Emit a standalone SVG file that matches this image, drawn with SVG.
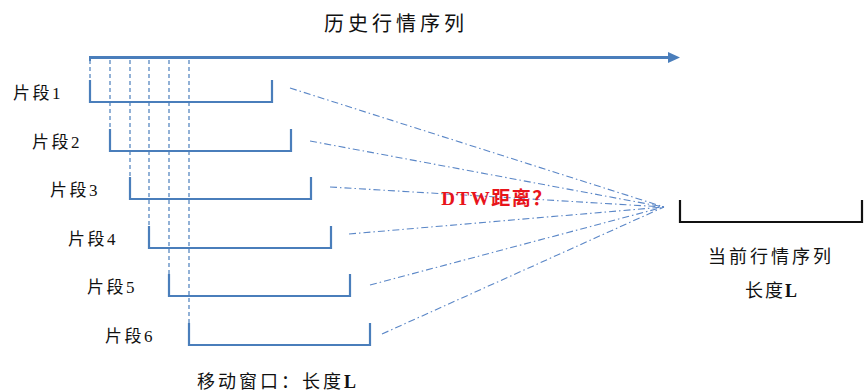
<svg xmlns="http://www.w3.org/2000/svg" width="864" height="392" viewBox="0 0 864 392">
<style>
.lbl{font-family:"Liberation Serif","Noto Sans CJK SC",serif;font-size:17px;fill:#111;letter-spacing:2.5px;}
.cap{font-family:"Liberation Serif","Noto Sans CJK SC",serif;font-size:18px;fill:#111;}
.br{fill:none;stroke:#4a7ebb;stroke-width:2.2;}
.vd{stroke:#4a7ebb;stroke-width:1.2;stroke-dasharray:4 3;fill:none;}
.dd{stroke:#5b87c7;stroke-width:1.1;stroke-dasharray:7 3 1.5 3;fill:none;}
</style>
<rect width="864" height="392" fill="#fff"/>
<g id="title"><text x="396" y="31" text-anchor="middle" class="cap" style="font-size:20px;letter-spacing:4px">历史行情序列</text></g>
<g id="timeline">
<line x1="90" y1="57.5" x2="670" y2="57.5" stroke="#4a7ebb" stroke-width="3"/>
<polygon points="668,52 680,57.5 668,63" fill="#4a7ebb"/>
<line x1="90" y1="56" x2="90" y2="61" stroke="#4a7ebb" stroke-width="2"/>
</g>
<g id="guides">
<line class="vd" x1="90" y1="60" x2="90" y2="80"/>
<line class="vd" x1="110" y1="60" x2="110" y2="129"/>
<line class="vd" x1="130" y1="60" x2="130" y2="177"/>
<line class="vd" x1="149" y1="60" x2="149" y2="226"/>
<line class="vd" x1="169" y1="60" x2="169" y2="274"/>
<line class="vd" x1="189" y1="60" x2="189" y2="323"/>
</g>
<g id="seg1"><path class="br" d="M90,80 V102 H272 V80"/><text class="lbl" x="13" y="99">片段1</text></g>
<g id="seg2"><path class="br" d="M110,129 V151 H291 V129"/><text class="lbl" x="32" y="148">片段2</text></g>
<g id="seg3"><path class="br" d="M130,177 V199 H311 V177"/><text class="lbl" x="50" y="196">片段3</text></g>
<g id="seg4"><path class="br" d="M149,226 V248 H331 V226"/><text class="lbl" x="68" y="245">片段4</text></g>
<g id="seg5"><path class="br" d="M169,274 V296 H350 V274"/><text class="lbl" x="87" y="293">片段5</text></g>
<g id="seg6"><path class="br" d="M189,323 V345 H370 V323"/><text class="lbl" x="105" y="342">片段6</text></g>
<g id="connectors">
<line class="dd" x1="290" y1="88" x2="664" y2="207"/>
<line class="dd" x1="310" y1="141" x2="664" y2="207"/>
<line class="dd" x1="330" y1="187" x2="664" y2="207"/>
<line class="dd" x1="349" y1="234" x2="664" y2="207"/>
<line class="dd" x1="370" y1="285" x2="664" y2="207"/>
<line class="dd" x1="382" y1="334" x2="664" y2="207"/>
</g>
<g id="dtw"><text x="497" y="205" text-anchor="middle" class="cap" style="fill:#e8141b;font-size:19px;font-weight:bold;letter-spacing:1.5px">DTW距离？</text></g>
<g id="current">
<path d="M680,200 V222 H862 V200" fill="none" stroke="#111" stroke-width="2.2"/>
<text x="771" y="263" text-anchor="middle" class="cap" style="letter-spacing:3px">当前行情序列</text>
<text x="772" y="297" text-anchor="middle" class="cap" style="letter-spacing:2px">长度<tspan font-weight="bold">L</tspan></text>
</g>
<g id="window"><text x="278" y="388" text-anchor="middle" class="cap" style="letter-spacing:3px">移动窗口：长度<tspan font-weight="bold">L</tspan></text></g>
</svg>
